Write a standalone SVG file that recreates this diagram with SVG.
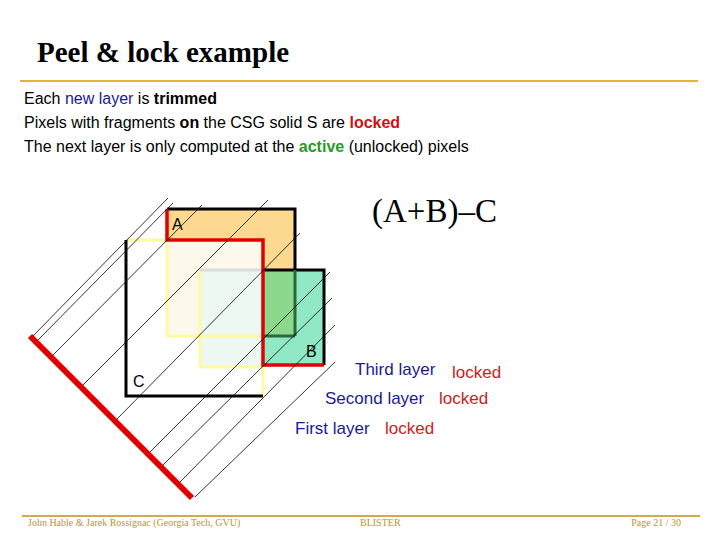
<svg xmlns="http://www.w3.org/2000/svg" width="720" height="540" viewBox="0 0 720 540">
<style>
.s{font-family:"Liberation Sans",Arial,sans-serif}
.r{font-family:"Liberation Serif","Times New Roman",serif}
.h{stroke:#000;stroke-width:0.8}
.bl{fill:#1a1a96}.rd{fill:#c81e1e}
.ft{font-family:"Liberation Serif",serif;font-size:10px;fill:#b8962e}
</style>
<rect width="720" height="540" fill="#fff"/>
<text x="37" y="62" class="r" font-size="29" font-weight="bold">Peel &amp; lock example</text>
<line x1="20" y1="81" x2="698" y2="81" stroke="#e2b43c" stroke-width="2"/>
<g class="s" font-size="16">
<text x="24" y="104">Each <tspan fill="#1a1a96">new layer</tspan> is <tspan font-weight="bold">trimmed</tspan></text>
<text x="24" y="128">Pixels with fragments <tspan font-weight="bold">on</tspan> the CSG solid S are <tspan font-weight="bold" fill="#d01010">locked</tspan></text>
<text x="24" y="152">The next layer is only computed at the <tspan font-weight="bold" fill="#2a9a2a">active</tspan> (unlocked) pixels</text>
</g>
<text x="372" y="222" class="r" font-size="33">(A+B)–C</text>
<g id="A"><rect x="167" y="209" width="128" height="127" fill="#fcd890"/></g>
<g id="B"><rect x="263" y="270" width="61" height="95" fill="#90e8c4"/>
<rect x="263" y="270" width="32" height="66" fill="#8cd88c"/></g>
<rect x="167" y="240" width="96" height="96" fill="#fdf8ec"/>
<rect x="200" y="270" width="63" height="97" fill="#eef8f2"/>
<g id="C" fill="none" stroke-width="3">
<path d="M167,336 V240 H126" stroke="#fffaa0"/>
<path d="M200,367 V270" stroke="#fffaa0"/>
<path d="M167,336 H263 M200,367 H263 M263,365 V396" stroke="#fffaa0"/>
<path d="M200,270 H263" stroke="#dcdcdc"/>
<path d="M263,336 H295" stroke="#2a6a3a"/>
<path d="M126,240 V396 H263" stroke="#000"/>
<path d="M167,209 H295 V270" stroke="#000"/>
<path d="M263,270 H324 V365" stroke="#000"/>
<path d="M295,270 V336" stroke="#2a6a3a"/>
<path d="M167,209 V240 H263 V365 H324" stroke="#e00000" stroke-width="3.5"/>
</g>
<g id="connectors">
<line class="h" x1="32" y1="337" x2="168" y2="198"/>
<line class="h" x1="38" y1="340" x2="173" y2="203"/>
<line class="h" x1="53" y1="355" x2="202" y2="205"/>
<line class="h" x1="83" y1="385" x2="268" y2="200"/>
<line class="h" x1="117" y1="419" x2="300" y2="233"/>
<line class="h" x1="150" y1="452" x2="330" y2="272"/>
<line class="h" x1="163" y1="465" x2="332" y2="298"/>
<line class="h" x1="180" y1="482" x2="335" y2="325"/>
<line class="h" x1="195" y1="497" x2="335" y2="362"/>
<line x1="30" y1="336" x2="192" y2="498" stroke="#e00000" stroke-width="6"/>
</g>
<g class="s" font-size="17">
<text x="172" y="230" font-size="16">A</text>
<text x="306" y="357" font-size="16">B</text>
<text x="133" y="387" font-size="16">C</text>
<text x="355" y="375" class="bl">Third layer</text><text x="452" y="378" class="rd">locked</text>
<text x="325" y="404" class="bl">Second layer</text><text x="439" y="404" class="rd">locked</text>
<text x="295" y="434" class="bl">First layer</text><text x="385" y="434" class="rd">locked</text>
</g>
<line x1="22" y1="516" x2="700" y2="516" stroke="#d4aa50" stroke-width="2"/>
<text x="28" y="526" class="ft">John Hable &amp; Jarek Rossignac (Georgia Tech, GVU)</text>
<text x="360" y="526" class="ft">BLISTER</text>
<text x="681" y="526" class="ft" text-anchor="end">Page 21 / 30</text>
</svg>
